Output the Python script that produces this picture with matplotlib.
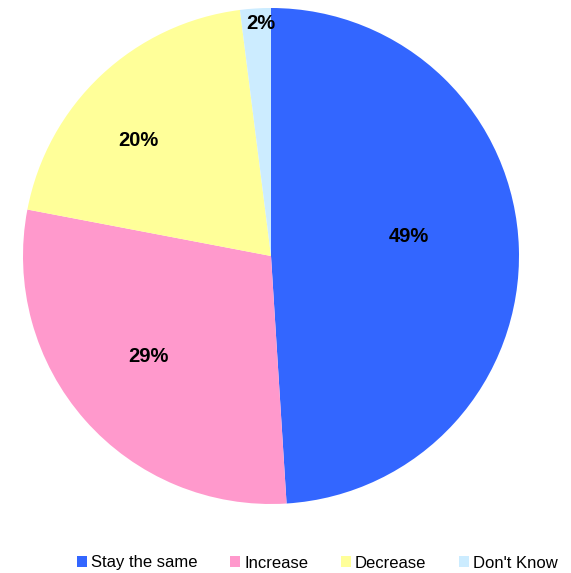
import numpy as np
import matplotlib.pyplot as plt
from matplotlib.patches import Patch

# survey answers
labels = ['Stay the same', 'Increase', 'Decrease', "Don't Know"]
shares = [49, 29, 20, 2]
colors = ['#3366FF', '#FF99CC', '#FFFF99', '#CCECFF']

# where each percent label sits (radius fraction, angle shift in degrees)
label_pos = [(0.56, 6.1), (0.64, -2.0), (0.71, 5.7), (0.94, -1.1)]

plt.rcParams['font.family'] = ['Liberation Sans', 'DejaVu Sans']

fig = plt.figure(figsize=(5.71, 5.73), dpi=100)
# pie centre ~ (271, 256) px, radius ~ 248 px
r = 248
ax = fig.add_axes([(271 - r) / 571, 1 - (256 + r) / 573, 2 * r / 571, 2 * r / 573])

wedges, texts = ax.pie(shares, colors=colors, startangle=90, counterclock=False,
                       radius=1, wedgeprops=dict(linewidth=0))
ax.set_xlim(-1, 1)
ax.set_ylim(-1, 1)
ax.set_aspect('auto')
ax.axis('off')

total = sum(shares)
start = 90.0
for v, (rf, shift) in zip(shares, label_pos):
    span = 360.0 * v / total
    mid = np.deg2rad(start - span / 2 + shift)
    ax.text(rf * np.cos(mid), rf * np.sin(mid), f'{v}%', ha='center', va='center',
            fontsize=14.5, fontweight='bold', color='black')
    start -= span

handles = [Patch(facecolor=c, edgecolor='none') for c in colors]
fig.legend(handles, labels, loc='center', bbox_to_anchor=(0.556, 1 - 563 / 573), ncol=4,
           frameon=False, fontsize=12, handlelength=0.6, handleheight=0.6,
           handletextpad=0.25, columnspacing=1.95)

fig.savefig('out.png', dpi=100)
